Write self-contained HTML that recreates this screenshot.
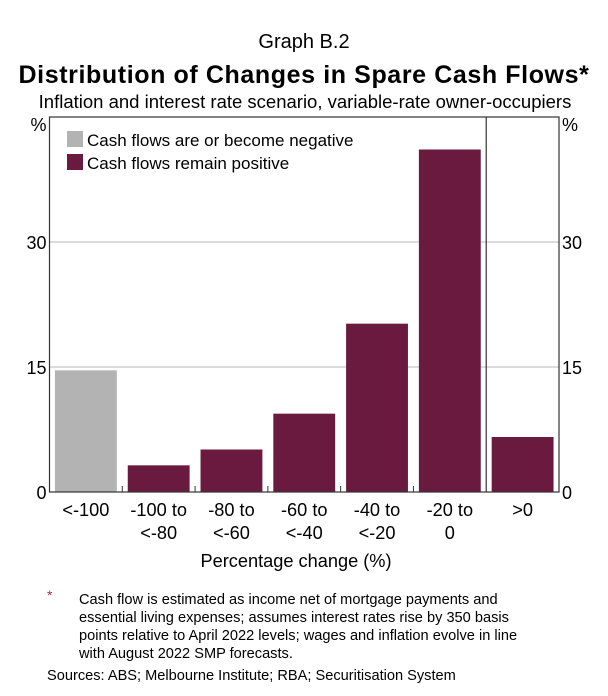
<!DOCTYPE html>
<html><head><meta charset="utf-8"><style>
body{margin:0;background:#fff;font-family:"Liberation Sans",Arial,sans-serif;}
svg text{font-family:"Liberation Sans",Arial,sans-serif;fill:#000;}
</style></head><body>
<svg id="chart" width="608" height="691" viewBox="0 0 608 691" xmlns="http://www.w3.org/2000/svg">
<text x="304" y="48" font-size="20" text-anchor="middle">Graph B.2</text>
<text x="304" y="83" font-size="25" font-weight="bold" letter-spacing="0.6" text-anchor="middle">Distribution of Changes in Spare Cash Flows*</text>
<text x="305" y="108" font-size="18.5" text-anchor="middle">Inflation and interest rate scenario, variable-rate owner-occupiers</text>
<g id="grid"></g>
<g id="bars"></g>
<g id="axes"></g>
<rect x="67" y="131" width="16" height="16" fill="#b3b3b3"/>
<text x="87" y="146" font-size="17">Cash flows are or become negative</text>
<rect x="67" y="154" width="16" height="16" fill="#6b1a3f"/>
<text x="87" y="169" font-size="17">Cash flows remain positive</text>
<text x="296" y="567" font-size="18.2" text-anchor="middle">Percentage change (%)</text>
<text x="47" y="600" font-size="14" style="fill:#a0304a">*</text>
<g font-size="14.6">
<text x="79" y="604">Cash flow is estimated as income net of mortgage payments and</text>
<text x="79" y="622">essential living expenses; assumes interest rates rise by 350 basis</text>
<text x="79" y="640">points relative to April 2022 levels; wages and inflation evolve in line</text>
<text x="79" y="658">with August 2022 SMP forecasts.</text>
</g>
<text x="47" y="680" font-size="14.6">Sources: ABS; Melbourne Institute; RBA; Securitisation System</text>
</svg>
<script>
const categories1 = ["<-100","-100 to","-80 to","-60 to","-40 to","-20 to",">0"];
const categories2 = ["","<-80","<-60","<-40","<-20","0",""];
const values = [14.6,3.2,5.1,9.4,20.2,41.1,6.6];
const negativeFlags = [true,false,false,false,false,false,false];
const yTicks = [0,15,30];
const yMax = 45;

const NS="http://www.w3.org/2000/svg";
const L=49.5,R=559,T=117,B=492;
const bw=(R-L)/categories1.length;
function y(v){return B-(v/yMax)*(B-T);}
function x(i){return L+i*bw;}
function mk(tag,attrs,parent){const e=document.createElementNS(NS,tag);for(const k in attrs)e.setAttribute(k,attrs[k]);parent.appendChild(e);return e;}
const grid=document.getElementById('grid'),bars=document.getElementById('bars'),axes=document.getElementById('axes');
yTicks.forEach(t=>{
  if(t>0){const g=mk('line',{x1:L,x2:R,y1:y(t),y2:y(t),stroke:'#cfcfcf','stroke-width':1.5},grid);
  
  }
  const a=mk('text',{x:L-3,y:y(t)+7,'font-size':18,'text-anchor':'end'},axes);a.textContent=t;
  
  
  const b=mk('text',{x:R+3,y:y(t)+7,'font-size':18},axes);b.textContent=t;
  
  
});
const pl=mk('text',{x:L-3,y:T+14,'font-size':18,'text-anchor':'end'},axes);pl.textContent='%';


const pr=mk('text',{x:R+3,y:T+14,'font-size':18},axes);pr.textContent='%';


values.forEach((v,i)=>{
  const pad=bw*0.075;
  const r=mk('rect',{x:x(i)+pad,y:y(v),width:bw-2*pad,height:B-y(v),fill:negativeFlags[i]?'#b3b3b3':'#6b1a3f'},bars);
  
  
  const t1=mk('text',{x:x(i)+bw/2,y:B+24,'font-size':18.2,'text-anchor':'middle'},axes);t1.textContent=categories1[i];
  
  
  if(categories2[i]){const t2=mk('text',{x:x(i)+bw/2,y:B+47,'font-size':18.2,'text-anchor':'middle'},axes);t2.textContent=categories2[i];
  
  }
  if(i>0&&i<6){mk('line',{x1:x(i),x2:x(i),y1:B,y2:B-6,stroke:'#333','stroke-width':1},axes);}
});
const box=mk('rect',{x:L,y:T,width:R-L,height:B-T,fill:'none',stroke:'#333','stroke-width':1.2},axes);


const dv=mk('line',{x1:x(6),x2:x(6),y1:T,y2:B,stroke:'#333','stroke-width':1.2},axes);


</script>
</body></html>
